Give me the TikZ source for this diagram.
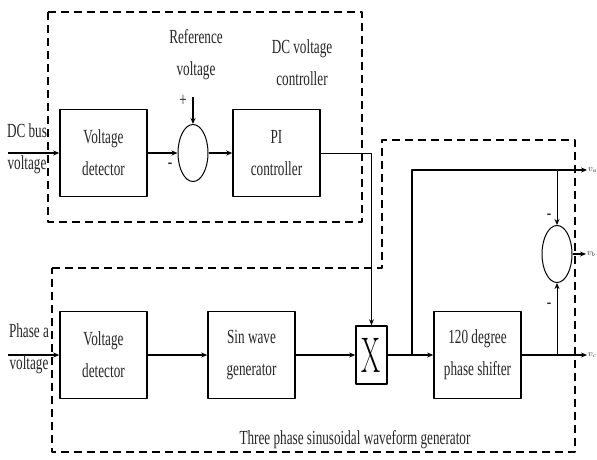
\documentclass[tikz,border=0pt]{standalone}
\usepackage{fontspec}
\newfontfamily\lblfont[FakeStretch=0.66]{Liberation Serif}
\usetikzlibrary{shapes.geometric,arrows.meta}

\tikzset{
  blk/.style={draw, line width=1.6pt, minimum width=87pt, minimum height=87pt, inner sep=0pt, align=center},
  sumnode/.style={draw, ellipse, line width=1pt, minimum width=30pt, minimum height=57pt, inner sep=0pt},
  xbox/.style={draw, line width=1.6pt, minimum width=31pt, minimum height=58pt, inner sep=0pt},
  arr/.style={-{Stealth[length=6pt,width=5pt]}, line width=1.5pt},
  frame/.style={dash pattern=on 8pt off 5pt, line width=1.5pt},
  lbl/.style={font=\lblfont\fontsize{20}{32}\selectfont, text=black!85, align=center, inner sep=0pt},
  outlbl/.style={font=\lblfont\fontsize{9}{9}\selectfont, text=black!85, inner sep=0pt, anchor=west}
}

\begin{document}
\begin{tikzpicture}[x=1pt, y=-1pt, line join=round]
    \useasboundingbox (0,0) rectangle (597,459);

    % dashed frames
    \draw[frame] (48,12) rectangle (362,222);
    \draw[frame] (52,268) -- (382,268) -- (382,140) -- (575,140) -- (575,452) -- (52,452) -- cycle;

    % DC voltage controller
    \node[blk, lbl] (vd1) at (103.5,153) {Voltage\\detector};
    \node[sumnode] (sum1) at (193,153) {};
    \node[blk, lbl] (pi) at (276.5,153) {PI\\controller};

    % waveform generator
    \node[blk, lbl] (vd2) at (103.5,355) {Voltage\\detector};
    \node[blk, lbl] (sine) at (251.5,355) {Sin wave\\generator};
    \node[xbox] (mult) at (371.5,355) {\fontsize{50}{50}\selectfont\scalebox{0.55}[1]{X}};
    \node[blk, lbl] (shift) at (477.5,355) {120 degree\\phase shifter};
    \node[sumnode] (sum2) at (557,254) {};

    \coordinate (in1) at (8,153);
    \coordinate (in2) at (8,355);
    \coordinate (ref) at (193,97);
    \coordinate (br) at (412,355);
    \coordinate (outa) at (587,170);
    \coordinate (outb) at (586,254);
    \coordinate (outc) at (587,355);

    \draw[arr] (in1) -- (vd1.west);
    \draw[arr] (vd1) -- (sum1);
    \draw[arr] (ref) -- (sum1.north);
    \draw[arr] (sum1) -- (pi);
    \draw[arr, line width=1pt] (pi.east) -| (mult.north);

    \draw[arr] (in2) -- (vd2.west);
    \draw[arr] (vd2) -- (sine);
    \draw[arr] (sine) -- (mult);
    \draw[arr] (mult) -- (shift);
    \draw[arr] (br) |- (outa);
    \draw[arr] (shift) -- (outc);
    \draw[arr, line width=1pt] (sum2 |- outa) -- (sum2.north);
    \draw[arr, line width=1pt] (sum2 |- outc) -- (sum2.south);
    \draw[arr] (sum2.east) -- (outb);

    % signs
    \node[lbl] (p1) at (183,101) {+};
    \node[lbl] (m1) at (170,166) {-};
    \node[lbl] (m2) at (549,217) {-};
    \node[lbl] (m3) at (549,306) {-};

    % labels
    \node[lbl] (reftxt) at (196,55) {Reference\\voltage};
    \node[lbl] (dctxt) at (302,63) {DC voltage\\controller};
    \node[lbl] (bustxt) at (27,149) {DC bus\\voltage};
    \node[lbl] (phtxt) at (29,349) {Phase a\\voltage};
    \node[lbl] (gentxt) at (355,440) {Three phase sinusoidal waveform generator};
    \node[outlbl] (la) at (588,170) {$v_a$};
    \node[outlbl] (lb) at (587,254) {$v_b$};
    \node[outlbl] (lc) at (588,355) {$v_c$};
\end{tikzpicture}
\end{document}
